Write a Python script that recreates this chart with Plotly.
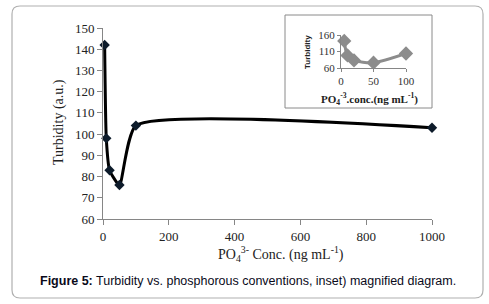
import plotly.graph_objects as go

# ---- data ----
conc = [5, 10, 20, 50, 100, 1000]
turbidity = [142, 98, 83, 76, 104, 103]
inset_conc = [5, 10, 20, 50, 100]
inset_turbidity = [142, 98, 83, 76, 104]
main_yticks = [60, 70, 80, 90, 100, 110, 120, 130, 140, 150]
main_xticks = [0, 200, 400, 600, 800, 1000]
inset_yticks = [60, 110, 160]
inset_xticks = [0, 50, 100]

W, H = 489, 304
L, R, T, B = 103, 432, 28, 219


def px(x):
    return (x - L) / (R - L)


def py(y):
    return (B - y) / (B - T)


fig = go.Figure()
fig.add_trace(go.Scatter(
    x=conc, y=turbidity, mode="lines+markers",
    line=dict(color="black", width=3, shape="spline", smoothing=0.5),
    marker=dict(symbol="diamond", size=8, color="#0d1b2a"),
    cliponaxis=False, showlegend=False))
fig.add_trace(go.Scatter(
    x=inset_conc, y=inset_turbidity, mode="lines+markers",
    xaxis="x2", yaxis="y2",
    line=dict(color="#8c8c8c", width=3, shape="spline", smoothing=0.8),
    marker=dict(symbol="diamond", size=11, color="#8c8c8c"),
    cliponaxis=False, showlegend=False))

serif = "Liberation Serif, Times New Roman, serif"
axcol = "#868686"

fig.update_layout(
    width=W, height=H,
    margin=dict(l=L, r=W - R, t=T, b=H - B),
    paper_bgcolor="white", plot_bgcolor="rgba(0,0,0,0)",
    xaxis=dict(range=[0, 1000], tickvals=main_xticks, showgrid=False, zeroline=False,
               showline=True, linecolor=axcol, linewidth=1, ticks="outside",
               ticklen=5, tickcolor=axcol,
               tickfont=dict(family=serif, size=13, color="#222")),
    yaxis=dict(range=[60, 150], tickvals=main_yticks, showgrid=False, zeroline=False,
               showline=True, linecolor=axcol, linewidth=1, ticks="outside",
               ticklen=5, tickcolor=axcol,
               tickfont=dict(family=serif, size=13, color="#222")),
    xaxis2=dict(domain=[px(341), px(406)], anchor="y2", range=[0, 100],
                tickvals=inset_xticks, showgrid=False, zeroline=False,
                showline=True, linecolor=axcol, linewidth=1, ticks="outside",
                ticklen=3, tickcolor=axcol,
                tickfont=dict(family=serif, size=11, color="#333")),
    yaxis2=dict(domain=[py(68), py(35)], anchor="x2", range=[60, 160],
                tickvals=inset_yticks, showgrid=False, zeroline=False,
                showline=True, linecolor=axcol, linewidth=1, ticks="outside",
                ticklen=3, tickcolor=axcol,
                tickfont=dict(family=serif, size=11, color="#333")),
)

# outer rounded frame
x0, y0, x1, y1, r = 12, 6, 483, 298, 8
rx, ry = r / (R - L), r / (B - T)
X0, X1, Y0, Y1 = px(x0), px(x1), py(y1), py(y0)
path = (f"M {X0+rx},{Y1} L {X1-rx},{Y1} Q {X1},{Y1} {X1},{Y1-ry} "
        f"L {X1},{Y0+ry} Q {X1},{Y0} {X1-rx},{Y0} L {X0+rx},{Y0} "
        f"Q {X0},{Y0} {X0},{Y0+ry} L {X0},{Y1-ry} Q {X0},{Y1} {X0+rx},{Y1} Z")
fig.add_shape(type="path", path=path, xref="paper", yref="paper",
              line=dict(color="#b0b0b0", width=1.2), layer="below")
# inset box
fig.add_shape(type="rect", xref="paper", yref="paper",
              x0=px(285), x1=px(432), y0=py(108), y1=py(15),
              line=dict(color="#8a8a8a", width=1), fillcolor="white", layer="below")


def note(x, y, text, size, family, angle=0, color="#222", xanchor="center"):
    fig.add_annotation(x=px(x), y=py(y), xref="paper", yref="paper",
                       xanchor=xanchor, yanchor="middle", text=text,
                       textangle=angle, showarrow=False,
                       font=dict(family=family, size=size, color=color))


sans = "Liberation Sans, Arial, sans-serif"
note(216, 254, "PO<sub>4</sub><sup>3-</sup> Conc. (ng mL<sup>-1</sup>)", 14, serif, xanchor="left")
note(59, 122, "Turbidity (a.u.)", 14, serif, angle=-90)
note(369, 99, "<b>PO<sub>4</sub><sup>-3</sup>.conc.(ng mL<sup>-1</sup>)</b>", 11, serif)
note(307, 52, "<b>Turbidity</b>", 8, sans, angle=-90)
note(248, 281, "<b>Figure 5:</b> Turbidity vs. phosphorous conventions, inset) magnified diagram.",
     12.5, sans, color="#0a0a1a")

fig.write_html("out.html", config={"displayModeBar": False},
               post_script="document.body.style.margin='0';")
